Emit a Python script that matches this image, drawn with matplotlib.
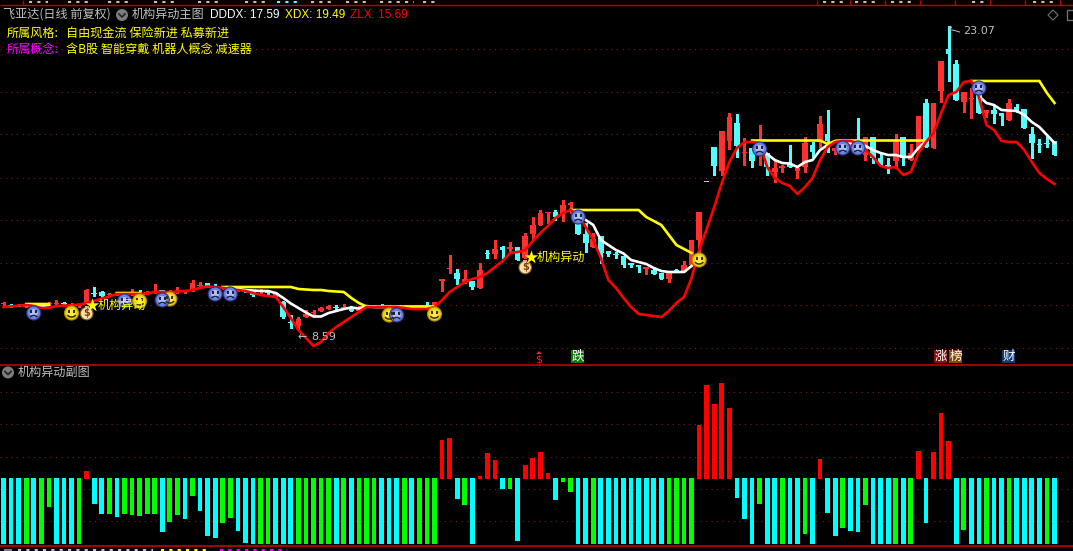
import numpy as np
import matplotlib
matplotlib.use("Agg")
import matplotlib.pyplot as plt
from matplotlib.patches import Arc, Circle, Rectangle, Polygon

plt.rcParams["font.family"] = ["Noto Sans CJK SC", "DejaVu Sans"]

nan = float("nan")
W, H = 1073, 551

############### DATA: main panel levels (smaller = higher on screen) ###############

body_top = [303,305,305,306,305,306,303,303,303,304,
            305,290,293,292,294,294,294,293,293,292,
            291,290,291,291,290,283,285,283,286,287,
            288,289,290,292,291,291,293,302,322,319,
            314,312,308,306,307,307,307,307,306,306,
            306,306,307,307,307,307,306,302,279,268,
            273,279,281,270,253,249,247,247,247,236,
            225,213,212,212,205,203,220,234,239,236,
            251,254,256,263,265,267,270,273,273,270,
            265,240,212,181,147,131,117,123,152,148,
            143,153,168,166,164,168,143,145,124,134,
            148,145,143,142,137,137,158,165,142,137,
            153,116,103,103,61,49,64,92,98,95,
            110,110,113,103,107,109,134,144,143,141]
body_bot = [304,305,305,306,305,306,304,303,303,305,
            306,303,294,296,295,294,296,293,293,293,
            291,292,292,291,292,289,285,287,286,288,
            288,290,291,295,291,293,296,317,322,326,
            317,312,311,309,307,307,311,311,307,306,
            306,307,307,307,307,307,306,307,281,269,
            279,282,287,288,254,254,250,249,260,258,
            234,225,213,217,214,205,234,243,247,253,
            254,255,265,265,267,269,274,279,279,272,
            272,265,240,181,166,171,141,146,152,161,
            152,167,172,168,167,171,167,152,142,141,
            151,148,147,153,155,158,165,168,161,158,
            160,150,147,148,91,54,100,102,99,113,
            113,114,116,120,112,128,143,145,144,155]
wick_top = [302,304,304,305,304,305,302,300,302,303,
            304,289,287,291,293,293,293,289,290,291,
            284,290,290,287,290,280,282,283,284,286,
            287,288,289,291,289,290,292,301,315,317,
            310,310,307,305,305,304,306,306,305,305,
            304,305,306,306,306,306,302,302,279,255,
            269,270,281,263,250,240,246,242,247,233,
            217,210,212,210,200,202,220,223,233,236,
            251,252,256,263,265,267,268,273,273,269,
            261,240,212,181,147,131,113,114,138,148,
            125,153,160,165,145,167,137,142,116,110,
            148,145,143,118,137,137,153,158,134,137,
            144,116,99,103,61,26,60,92,88,95,
            110,105,113,99,104,109,127,139,136,141]
wick_bot = [307,307,306,307,306,307,305,305,305,306,
            307,303,296,298,296,295,297,295,295,294,
            293,292,293,293,293,291,287,287,288,289,
            289,291,292,296,294,294,297,318,328,329,
            317,315,311,309,311,309,311,312,307,307,
            307,308,308,308,308,308,307,307,291,273,
            284,283,289,288,258,258,258,253,260,258,
            240,225,223,220,221,213,234,252,247,263,
            256,258,267,267,272,274,274,279,282,272,
            272,265,252,181,175,175,149,157,165,167,
            165,175,182,172,167,178,172,157,147,152,
            154,148,147,153,160,163,165,173,168,165,
            160,150,147,148,102,81,100,112,118,113,
            117,123,125,120,112,128,158,152,147,155]
candle_up = [1,0,0,1,1,0,1,1,0,1,
             1,1,0,0,1,1,0,1,0,1,
             1,0,1,1,1,1,1,0,0,1,
             1,1,0,0,1,0,1,0,0,1,
             1,1,1,1,0,1,0,1,0,0,
             0,1,1,0,0,1,0,1,1,1,
             0,1,0,1,0,1,0,1,0,1,
             1,1,1,0,1,1,0,0,1,0,
             0,0,0,0,0,1,0,0,1,0,
             1,1,1,0,0,1,1,0,1,0,
             1,0,1,1,0,1,1,0,1,0,
             1,1,1,0,1,0,0,0,1,0,
             1,1,0,1,1,0,0,1,1,0,
             1,0,0,1,0,0,0,0,0,0]

red_line = [307,306.5,305.5,305,306,308,308,306,305.5,305.5,
            304.5,303,301,298.5,296.5,294,294,294,294,293.5,
            292,292,292,291.5,291,290,288,286.5,287,288,
            289,290,291,293,295,296,297,307,318,330,
            338,346,342,333,327,322,317,312,307,307,
            307,307,307,308,309,309,309,307,300,292,
            287,282,279,277,273,267,261,253,252,250,
            241,233,226,218,213,210,215,227,240,258,
            280,288,298,307,314,315,316,317,311,303,
            297,278,250,229,207,183,162,148,142,142,
            143,167,178,183,186,194,187,178,160,147,
            142,141,141,143,150,157,166,168,167,175,
            172,153,142,133,113,95,92,82,81,97,
            125,130,141,142,142,150,162,173,179,184]
white_line = [nan,nan,nan,305,305.5,306,305,nan,nan,nan,
              nan,nan,nan,nan,nan,293.5,293.5,293.5,293.5,nan,
              nan,nan,nan,nan,nan,nan,nan,nan,nan,287.5,
              288,289,290,290.5,291,291,293,298,303.5,308,
              312.5,316.5,316.5,313,311,309,307.5,308.5,306,307,
              307,307,307,307,307,307,307,307,nan,nan,
              nan,nan,nan,nan,nan,nan,nan,nan,nan,nan,
              nan,nan,nan,nan,nan,nan,216,220,225,240,
              245,250,253.5,260,262,264,268,271,272,272,
              272,266,nan,nan,nan,nan,nan,nan,nan,nan,
              147,154,160,163,163.5,167,162,160,150,145,
              141,141,143,145,146,150,153,155,155,157,
              157,148,141,nan,nan,nan,nan,nan,nan,96,
              103,105,110,110.5,111,115,122,127,135,143]
yellow_line = [nan,nan,nan,304,304,304,304,nan,nan,nan,
               nan,nan,nan,nan,nan,293,293,293,293,nan,
               nan,nan,nan,nan,nan,nan,nan,nan,nan,287,
               287,287,287,287,287,287,287,287,287,289,
               289.5,290,290,291,291.5,292,298,303,306.5,306.5,
               306.5,306.5,306.5,306.5,306.5,306.5,306.5,306.5,nan,nan,
               nan,nan,nan,nan,nan,nan,nan,nan,nan,nan,
               nan,nan,nan,nan,nan,210,210,210,210,210,
               210,210,210,210,210,217,221,225,235,245,
               249,253,nan,nan,nan,nan,nan,nan,nan,140.5,
               140.5,140.5,140.5,140.5,140.5,140.5,140.5,140.5,140.5,144,
               141,140.5,140.5,140.5,140.5,140.5,140.5,140.5,140.5,140.5,
               140.5,140.5,140.5,nan,nan,nan,nan,nan,81,81,
               81,81,81,81,81,81,81,81,93,103]

# faces in drawing order, later ones cover earlier ones
face_idx = [4,16,9,18,22,21,28,30,51,52,57,76,92,100,111,113,129]
face_row = [313,301,313,301,299,300,294,294,315,315,314,217,260,149,148,148,88]
face_sad = [1,1,0,0,0,1,1,1,0,1,0,1,0,1,1,1,1]
bag_idx = [11,69]
bag_row = [313,267]
star_idx = [11.7,69.7]
star_row = [305,257]

############### DATA: lower panel ###############

sub_values = [-66,-66,-66,-66,-66,-66,-29,-66,-66,-66,
              -66,7,-26,-36,-36,-39,-36,-37,-38,-36,
              -36,-54,-44,-37,-41,-18,-33,-58,-60,-45,
              -40,-53,-65,-66,-66,-66,-66,-66,-66,-66,
              -66,-66,-66,-66,-66,-66,-66,-66,-66,-66,
              -66,-66,-66,-66,-66,-66,-66,-66,38,40,
              -21,-27,-66,2,25,18,-11,-11,-63,13,
              20,26,5,-22,-4,-14,-66,-66,-66,-66,
              -66,-66,-66,-66,-66,-66,-66,-66,-66,-66,
              -66,-66,53,93,74,95,70,-20,-41,-66,
              -26,-66,-66,-66,-66,-66,-56,-66,19,-35,
              -58,-50,-53,-54,-27,-66,-66,-66,-66,-66,
              -66,27,-45,26,65,37,-66,-52,-66,-66,
              -66,-66,-66,-66,-66,-66,-66,-66,-66,-66]
green_idx = [3,5,6,10,14,16,17,18,19,20,22,23,25,29,30,34,35,39,40,41,42,43,45,47,48,49,53,55,56,57,
             61,67,74,75,78,88,89,90,91,100,103,106,111,114,118,120,127,130,133,138]

main_grid = [49,92,134,178,220,263,305,348]
sub_grid = [86,54,21,-11,-43]
strip_ticks = [23,817,850,885,920,955,990,1025,1060]

tags = ["跌", "涨", "榜", "财"]
tag_x = [571,934,949,1002]
tag_bg = ["#0b7a0b", "#8a0c0c", "#8a4a00", "#123a70"]

# rims of the rows of text that the screenshot cuts off
rim_top_from = [29,68,108,154,198,245,311,346,380,423,823,855,891,972,1033]
rim_top_to = [48,89,130,175,219,267,335,370,414,439,845,880,914,986,1054]
rim_bot_from = [18,161,220]
rim_bot_to = [153,210,287]
rim_bot_color = ["#c0c0c0", "#ffff00", "#ff00ff"]

UP = "#ff3030"
DOWN = "#54fcfc"
BAR_RED = "#ff0000"
BAR_CYAN = "#00ffff"
BAR_GREEN = "#00ff00"
DOT = "#7a1c1c"
SEP = "#c00000"
GRAY = "#c0c0c0"
FONT = 8.7

############### PLOT ###############

fig = plt.figure(figsize=(W / 100, H / 100), dpi=100, facecolor="black")

def panel(top, bottom):
    a = fig.add_axes([0, 1 - bottom / H, 1, (bottom - top) / H], facecolor="black")
    a.axis("off")
    return a

x0 = 3.5
step = 1051 / 139
xlim = (-x0 / step, (W - x0) / step)
n = np.arange(140)

# main panel
ax = panel(6, 364.5)
ax.set_xlim(*xlim)
ax.set_ylim(364.5, 6)
ax.hlines(main_grid, *xlim, colors=DOT, linestyles=(0, (1, 4)), linewidth=0.8)

top = np.array(body_top, dtype=float)
bot = np.array(body_bot, dtype=float)
up = np.array(candle_up, dtype=bool)
colors = np.where(up, UP, DOWN)
ax.vlines(n, wick_top, wick_bot, colors=colors, linewidth=0.75, antialiased=False, zorder=2)
ax.bar(n, np.maximum(bot - top, 1), bottom=top, width=5.6 / step, color=colors, linewidth=0, zorder=3)

ax.plot(n, white_line, color="white", lw=1.9, zorder=4)
ax.plot(n, yellow_line, color="#ffff00", lw=1.9, zorder=5)
ax.plot(n, red_line, color="#ff0000", lw=1.9, zorder=6)

# lower panel, value 0 sits at row 478
sub = panel(364.5, H)
sub.set_xlim(*xlim)
sub.set_ylim(478 - H, 478 - 364.5)
sub.hlines(sub_grid, *xlim, colors=DOT, linestyles=(0, (1, 4)), linewidth=0.8)
vals = np.array(sub_values, dtype=float)
bar_colors = np.where(vals > 0, BAR_RED, BAR_CYAN).astype(object)
bar_colors[green_idx] = BAR_GREEN
sub.bar(n, vals + np.where(vals > 0, 1, 0), bottom=np.where(vals > 0, -1, 0), width=4.7 / step,
        color=list(bar_colors), linewidth=0, antialiased=False, zorder=3)

# overlay in picture pixels for text and icons
ui = fig.add_axes([0, 0, 1, 1], facecolor="none")
ui.axis("off")
ui.set_xlim(0, W)
ui.set_ylim(H, 0)

def to_px(i, row):
    return ui.transData.inverted().transform(ax.transData.transform((i, row)))

def face(i, row, sad):
    cx, cy = to_px(i, row)
    if sad:
        rings = ["#28368e", "#6d82d8", "#b4c0f2"]
        ink = "#1a2050"
    else:
        rings = ["#a88c00", "#f2cf10", "#ffe84a"]
        ink = "#3a3000"
    for r, c in zip([7.6, 6.4, 4], rings):
        ui.add_patch(Circle((cx, cy), r, color=c, lw=0, zorder=7))
    ui.add_patch(Rectangle((cx - 3.5, cy - 3), 2, 3, color=ink, lw=0, zorder=8))
    ui.add_patch(Rectangle((cx + 1.5, cy - 3), 2, 3, color=ink, lw=0, zorder=8))
    if sad:
        ui.add_patch(Arc((cx, cy + 5.5), 8, 6, theta1=200, theta2=340, color=ink, lw=1.1, zorder=8))
    else:
        ui.add_patch(Arc((cx, cy + 0.5), 9, 7, theta1=20, theta2=160, color=ink, lw=1.1, zorder=8))

def bag(i, row):
    cx, cy = to_px(i, row)
    ui.add_patch(Circle((cx, cy + 0.5), 6.3, facecolor="#f6e3a6", edgecolor="#8a5a20", lw=0.8, zorder=9))
    ui.add_patch(Rectangle((cx - 2, cy - 7.5), 4, 2.5, color="#d8b060", lw=0, zorder=9))
    ui.text(cx, cy + 0.5, "$", color="#8a3a10", fontsize=7, fontweight="bold",
            ha="center", va="center", family="DejaVu Sans", zorder=10)

for i, r, s in zip(face_idx, face_row, face_sad):
    face(i, r, s)
for i, r in zip(bag_idx, bag_row):
    bag(i, r)
for i, r in zip(star_idx, star_row):
    cx, cy = to_px(i, r)
    ui.scatter([cx], [cy], marker="*", s=105, color="#ffff00", lw=0, zorder=11)
    ui.text(cx + 6, cy, "机构异动", color="#ffff00", fontsize=FONT, ha="left", va="center", zorder=11)

def label(x, y, s, color, **kw):
    ui.text(x, y, s, color=color, fontsize=kw.pop("size", FONT), ha="left", va="center", zorder=12, **kw)

def chevron(cx, cy):
    ui.add_patch(Circle((cx, cy), 6, color="#7c7c7c", lw=0, zorder=12))
    ui.plot([cx - 3, cx, cx + 3], [cy - 1, cy + 2, cy - 1], color="#222222", lw=1.2, zorder=13)

# header
label(3, 14.5, "飞亚达(日线 前复权)", GRAY)
chevron(122, 15)
label(132, 14.5, "机构异动主图", GRAY)
label(210, 14.5, "DDDX: 17.59", "white", family="Liberation Sans", size=8.5)
label(285, 14.5, "XDX: 19.49", "#ffff00", family="Liberation Sans", size=8.5)
label(350, 14.5, "ZLX: 15.69", "#ff0000", family="Liberation Sans", size=8.5)
label(7, 33.5, "所属风格:", "#ffff00")
label(66, 33.5, "自由现金流 保险新进 私募新进", "#ffff00")
label(7, 49.5, "所属概念:", "#ff00ff")
label(66, 49.5, "含B股 智能穿戴 机器人概念 减速器", "#ffff00")

# separators and strips
ui.hlines([5], 0, W, colors=SEP, linewidth=1.0, zorder=12)
ui.vlines(strip_ticks, 0, 5, colors=SEP, linewidth=1.0, zorder=12)
ui.hlines([364.5, 546], 0, W, colors=SEP, linewidth=1.2, zorder=12)
chevron(8, 372.5)
label(18, 372.5, "机构异动副图", GRAY)

rim = (0, (1.5, 2.5))
ui.hlines([1.5] * len(rim_top_from), rim_top_from, rim_top_to, colors=GRAY, linestyles=rim, linewidth=1.5, zorder=12)
ui.hlines([1.5], 277, 301, colors=DOWN, linestyles=rim, linewidth=1.5, zorder=12)
ui.hlines([550] * len(rim_bot_from), rim_bot_from, rim_bot_to, colors=rim_bot_color, linestyles=rim, linewidth=1.5, zorder=12)
ui.hlines([550], 4, 12, colors="#7c7c7c", linewidth=1.5, zorder=12)

# high and low notes
ax_hi = to_px(125, 27)
ui.plot([ax_hi[0], ax_hi[0] + 3, ax_hi[0] + 1, ax_hi[0] + 4, ax_hi[0] + 11],
        [ax_hi[1], ax_hi[1], ax_hi[1] + 3, ax_hi[1] + 3, ax_hi[1] + 5], color=GRAY, lw=0.7, zorder=12)
label(963, 31.5, "23.07", GRAY, family="DejaVu Sans", size=8)
label(298, 337.5, "←", GRAY, family="DejaVu Sans", size=8)
label(311, 337.5, "8.59", GRAY, family="DejaVu Sans", size=8)

# event tags under the candles
ui.text(539, 359, "$", color="#ff2020", fontsize=8, ha="center", va="center", family="DejaVu Sans", zorder=12)
ui.add_patch(Polygon([(539, 351), (542, 354), (536, 354)], closed=True, color="#ff2020", lw=0, zorder=12))
for s, x, c in zip(tags, tag_x, tag_bg):
    ui.add_patch(Rectangle((x, 350), 13, 13, color=c, lw=0, zorder=12))
    ui.text(x + 6.5, 356.5, s, color="white", fontsize=9, ha="center", va="center", zorder=13)

# icons top right
ui.add_patch(Polygon([(1053, 10), (1058, 15), (1053, 20), (1048, 15)], closed=True, fill=False, edgecolor="#707070", lw=0.8, zorder=12))
ui.add_patch(Rectangle((1067, 10), 10, 10, fill=False, edgecolor="#707070", lw=1, zorder=12))

fig.savefig("out.png", dpi=100, facecolor="black")
